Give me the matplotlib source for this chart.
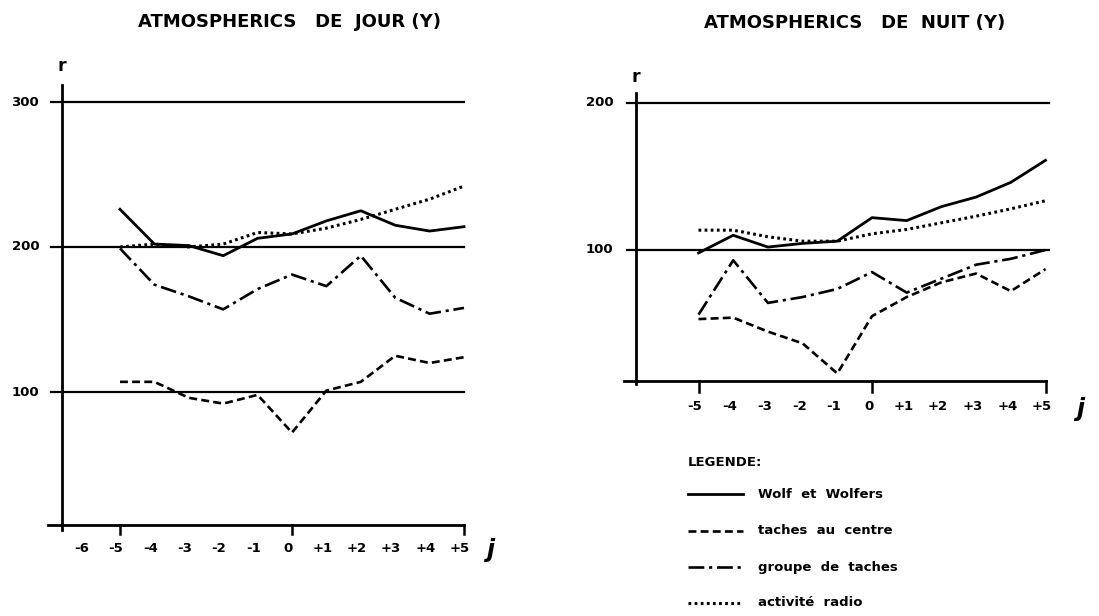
import matplotlib
matplotlib.use("Agg")
import matplotlib.pyplot as plt
from matplotlib.lines import Line2D

plt.rcParams['font.family'] = ['DejaVu Sans']
plt.rcParams['font.weight'] = 'bold'

# ---------------- data ----------------
days = [-5, -4, -3, -2, -1, 0, 1, 2, 3, 4, 5]
tick_labels_left = ["-6", "-5", "-4", "-3", "-2", "-1", "0", "+1", "+2", "+3", "+4", "+5"]
tick_pos_left = [-6, -5, -4, -3, -2, -1, 0, 1, 2, 3, 4, 5]
tick_labels_right = ["-5", "-4", "-3", "-2", "-1", "0", "+1", "+2", "+3", "+4", "+5"]
tick_pos_right = [-5, -4, -3, -2, -1, 0, 1, 2, 3, 4, 5]

# Atmospherics de jour
jour_wolf = [226, 202, 201, 194, 206, 209, 218, 225, 215, 211, 214]
jour_taches = [107, 107, 96, 92, 98, 72, 101, 107, 125, 120, 124]
jour_groupe = [199, 174, 166, 157, 171, 181, 173, 194, 165, 154, 158]
jour_radio = [200, 202, 200, 202, 210, 209, 213, 219, 226, 233, 242]
jour_levels = [100, 200, 300]

# Atmospherics de nuit
nuit_wolf = [98, 110, 102, 104.5, 106, 122, 120, 129.5, 136, 146, 161]
nuit_taches = [53, 54, 44.5, 36.5, 16, 55, 68, 78, 84, 72, 87]
nuit_groupe = [56, 93, 64, 68, 73.5, 85, 71, 80.5, 90, 94, 100]
nuit_radio = [113.5, 113.5, 109, 106, 106, 111, 114, 118.5, 123, 128, 133.5]
nuit_levels = [100, 200]

legend_labels = ["Wolf  et  Wolfers", "taches  au  centre", "groupe  de  taches", "activité  radio"]

# ---------------- styles ----------------
styles = [
    dict(color='black', lw=2.0, linestyle='-'),
    dict(color='black', lw=1.9, linestyle=(0, (3.0, 1.6))),
    dict(color='black', lw=1.9, linestyle=(0, (6.0, 1.8, 1.2, 1.8))),
    dict(color='black', lw=2.2, linestyle=(0, (0.9, 1.1))),
]

W, H = 1099, 616
fig = plt.figure(figsize=(W / 100, H / 100), dpi=100)


def make_axes(x0_px, unit_px, yref_px, yref_val, ypx_per_unit, xlim, ylim):
    # place axes so that data->pixel mapping matches the reference
    left_px = x0_px + unit_px * xlim[0]
    right_px = x0_px + unit_px * xlim[1]
    bottom_px = yref_px + ypx_per_unit * (yref_val - ylim[0])
    top_px = yref_px - ypx_per_unit * (ylim[1] - yref_val)
    ax = fig.add_axes([left_px / W, 1 - bottom_px / H,
                       (right_px - left_px) / W, (bottom_px - top_px) / H])
    ax.set_xlim(*xlim)
    ax.set_ylim(*ylim)
    ax.axis('off')
    return ax


TICK_FS = 9.5

# ---------- left panel ----------
axL = make_axes(292, 34.4, 392, 100, 1.45, (-7.6, 6.0), (0, 335))
for lv in jour_levels:
    axL.plot([-7.0, 5.0], [lv, lv], color='black', lw=1.6)
# axes
axL.plot([-7.1, 5.0], [8, 8], color='black', lw=2.0)
axL.plot([-6.7, -6.7], [5, 312], color='black', lw=2.0)
for t in (-5, 0, 5):
    axL.plot([t, t], [8, 2], color='black', lw=1.8, clip_on=False)
for s, st in zip([jour_wolf, jour_taches, jour_groupe, jour_radio], styles):
    axL.plot(days, s, **st)
for p, lab in zip(tick_pos_left, tick_labels_left):
    axL.text(p - 0.12, -8, lab, ha='center', va='center', fontsize=TICK_FS,
             fontweight='bold', clip_on=False)
for lv in jour_levels:
    axL.text(-7.75, lv, str(lv), ha='center', va='center', fontsize=TICK_FS,
             fontweight='bold', clip_on=False)
axL.text(-6.7, 325, "r", ha='center', va='center', fontsize=12.5, fontweight='bold')
axL.text(5.75, -9, "j", ha='center', va='center', fontsize=17,
         fontstyle='italic', fontweight='bold', clip_on=False)
fig.text(290 / W, 1 - 22 / H, "ATMOSPHERICS   DE  JOUR (Y)", ha='center', va='center',
         fontsize=13, fontweight='bold')

# ---------- right panel ----------
axR = make_axes(872, 34.7, 250, 100, 1.47, (-7.6, 6.2), (0, 230))
for lv in nuit_levels:
    axR.plot([-7.05, 5.1], [lv, lv], color='black', lw=1.6)
axR.plot([-7.15, 5.0], [11, 11], color='black', lw=2.0)
axR.plot([-6.8, -6.8], [9, 207], color='black', lw=2.0)
for t in (-5, 0, 5):
    axR.plot([t, t], [11, 3.5], color='black', lw=1.8, clip_on=False)
for s, st in zip([nuit_wolf, nuit_taches, nuit_groupe, nuit_radio], styles):
    axR.plot(days, s, **st)
for p, lab in zip(tick_pos_right, tick_labels_right):
    axR.text(p - 0.1, -6.5, lab, ha='center', va='center', fontsize=TICK_FS,
             fontweight='bold', clip_on=False)
for lv in nuit_levels:
    axR.text(-7.85, lv, str(lv), ha='center', va='center', fontsize=TICK_FS,
             fontweight='bold', clip_on=False)
axR.text(-6.8, 218, "r", ha='center', va='center', fontsize=12.5, fontweight='bold')
axR.text(6.0, -8, "j", ha='center', va='center', fontsize=17,
         fontstyle='italic', fontweight='bold', clip_on=False)
fig.text(855 / W, 1 - 23 / H, "ATMOSPHERICS   DE  NUIT (Y)", ha='center', va='center',
         fontsize=13, fontweight='bold')

# ---------- legend ----------
fig.text(688 / W, 1 - 463 / H, "LEGENDE:", ha='left', va='center', fontsize=9.5,
         fontweight='bold')
leg_y = [494, 531, 567, 603]
for yy, lab, st in zip(leg_y, legend_labels, styles):
    fig.add_artist(Line2D([688 / W, 743 / W], [1 - yy / H, 1 - yy / H],
                          transform=fig.transFigure, **st))
    fig.text(758 / W, 1 - yy / H, lab, ha='left', va='center', fontsize=9.5,
             fontweight='bold')

fig.savefig("out.png", dpi=100, facecolor='white')
